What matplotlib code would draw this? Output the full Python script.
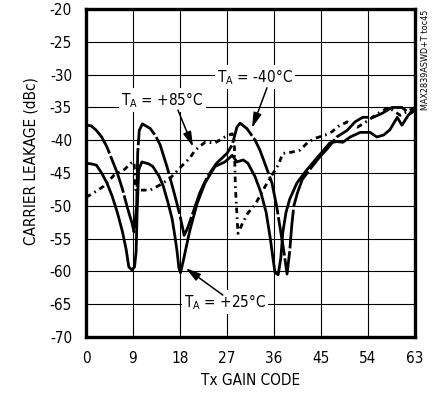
import matplotlib
matplotlib.use("Agg")
import matplotlib.pyplot as plt
from matplotlib import font_manager

# The datasheet uses a narrow sans; pick a condensed face if one is installed
narrow = [f for f in font_manager.fontManager.ttflist
          if "Narrow" in f.name or "Condensed" in f.name
          or str(f.stretch) in ("condensed", "semi-condensed", "extra-condensed", "narrow")]
narrow = [f for f in narrow if "Serif" not in f.name and "Mono" not in f.name]
if narrow:
    FONT = narrow[0].name
    plt.rcParams["font.stretch"] = narrow[0].stretch
    FS = 11
else:
    FONT = "Liberation Sans"
    FS = 10.5

plt.rcParams["font.family"] = [FONT, "DejaVu Sans"]
plt.rcParams["axes.unicode_minus"] = False
plt.rcParams["mathtext.fontset"] = "custom"
plt.rcParams["mathtext.rm"] = FONT
plt.rcParams["mathtext.default"] = "regular"

# ---- data (Tx gain code, carrier leakage dBc) ----
code_25 = [0, 1, 2, 3, 4, 5, 6, 7, 7.7, 8.2, 8.8, 9.3, 9.6, 9.8, 10.1, 10.7,
           12, 12.8, 14, 14.8, 15.7, 16.5, 17, 17.4, 17.8, 18.1, 18.6, 19, 19.9,
           21.3, 22.8, 24.7, 26.6, 28, 28.9, 30.1, 31, 32.4, 33.5, 34.5, 35.3,
           35.8, 36.2, 36.8, 37.3, 37.7, 38.3, 39, 40.4, 42.3, 43.9, 45.2, 46.7,
           48, 49.2, 50.6, 52.5, 54.4, 55.7, 57, 58.2, 59.6, 60.5, 61.7, 63]
leak_25 = [-43.5, -43.6, -43.8, -45, -46.5, -48.5, -51, -54, -56.7, -59.3, -59.8,
           -59.3, -57, -50.6, -44.5, -43.3, -43.6, -44, -45.5, -47, -49.5, -52,
           -54.5, -56.7, -59.5, -60.2, -58.5, -57, -53.7, -49.6, -46.5, -44, -43.3,
           -42.3, -43.3, -43, -43.5, -45.6, -48, -51, -55, -58, -60.2, -60.5, -58,
           -54, -51, -49, -46.5, -44.5, -43, -41.8, -40.4, -40.2, -40.3, -39.5,
           -38.8, -38.8, -39.5, -39.2, -38.4, -36.5, -37.7, -36.2, -35.4]

code_m40 = [0, 1, 2, 3, 4, 5, 6, 7, 8, 8.8, 9.2, 9.7, 9.9, 10.2, 10.8, 12.3,
            13.3, 14.2, 15.5, 16.7, 17.4, 18, 18.8, 19.4, 20.5, 21.8, 23.2, 25,
            27, 28, 28.9, 29.5, 30.8, 32.4, 33.3, 34.7, 35.6, 36.5, 37.3, 37.9,
            38.5, 39, 39.4, 39.8, 40.5, 41.4, 43.3, 44.8, 46.2, 48, 50, 51.5, 53,
            55, 56.7, 58.6, 60.5, 62, 63]
leak_m40 = [-37.7, -37.8, -38.5, -39.5, -41, -43, -45, -47.5, -50.5, -52.6, -54,
            -50, -42, -38.5, -37.5, -38.2, -39.3, -40.7, -44, -47.5, -49.6, -51.5,
            -54.5, -53.5, -51, -48, -45.6, -43.5, -42, -40.7, -38, -37.4, -38.2,
            -40, -41.5, -44.5, -46.5, -50, -54, -57, -60.4, -57, -53, -50, -48, -46,
            -44, -42.5, -41.3, -39.5, -38.5, -37.2, -36.5, -36.5, -35.9, -35, -35,
            -35.9, -35.2]

code_85 = [0, 1.5, 3.4, 5.4, 7.3, 8.6, 9.2, 9.5, 10.3, 12.3, 14.2, 16.1, 18,
           19.9, 20.9, 22.8, 24.7, 26.6, 28, 28.4, 28.6, 29.1, 30, 31, 32.4,
           33.9, 35.3, 36.8, 37.7, 39.5, 41, 42.5, 43.9, 45.8, 47.1, 48.3, 50,
           52, 54, 55.7, 57.9, 60.2, 62, 63]
leak_85 = [-48.7, -48, -47, -45.3, -44.5, -43.5, -43.3, -47.5, -47.6, -47.6,
           -46.8, -45.8, -44.2, -42.7, -41.5, -40.3, -40.4, -39.5, -39, -40, -47,
           -54.2, -52.6, -51.1, -49.8, -47.6, -45.7, -43.8, -42, -41.8, -41.5,
           -40.3, -39.7, -39.2, -38.7, -37.9, -37.2, -38, -37, -36, -35, -36.2,
           -35.4, -35]

x_ticks = [0, 9, 18, 27, 36, 45, 54, 63]
y_ticks = [-70, -65, -60, -55, -50, -45, -40, -35, -30, -25, -20]

# ---- figure ----
fig = plt.figure(figsize=(4.33, 3.96), dpi=100)
ax = fig.add_axes([0.1986, 0.149, 0.7598, 0.828])

lw = 2.0
ax.plot(code_25, leak_25, color="black", lw=lw, solid_joinstyle="round", zorder=3)
ax.plot(code_m40, leak_m40, color="black", lw=lw, dashes=(14, 1), zorder=3)
ax.plot(code_85, leak_85, color="black", lw=lw, dashes=(2, 1.5, 0.6, 1.5), zorder=3)

ax.set_xlim(0, 63)
ax.set_ylim(-70, -20)
ax.set_xticks(x_ticks)
ax.set_yticks(y_ticks)
ax.tick_params(length=0, labelsize=FS, pad=10)
ax.grid(True, color="black", lw=0.8)
ax.set_axisbelow(True)
for s in ax.spines.values():
    s.set_linewidth(2.4)

ax.set_xlabel("Tx GAIN CODE", fontsize=FS, labelpad=5)
ax.set_ylabel("CARRIER LEAKAGE (dBc)", fontsize=FS)
ax.yaxis.set_label_coords(-0.143, 0.537)

# labels with arrows
box = dict(facecolor="white", edgecolor="none", pad=1.5)
arrow = dict(arrowstyle="-|>,head_length=0.9,head_width=0.25", color="black",
             lw=1.1, shrinkA=0, shrinkB=0)
ax.text(32.4, -30.4, r"T$_A$ = -40°C", fontsize=FS, ha="center", va="center",
        bbox=box, zorder=4)
ax.annotate("", xy=(31.8, -38.1), xytext=(34.66, -32.0), arrowprops=arrow, zorder=4)
ax.text(14.6, -33.9, r"T$_A$ = +85°C", fontsize=FS, ha="center", va="center",
        bbox=box, zorder=4)
ax.annotate("", xy=(20.5, -41.0), xytext=(17.6, -35.4), arrowprops=arrow, zorder=4)
ax.text(26.6, -64.7, r"T$_A$ = +25°C", fontsize=FS, ha="center", va="center",
        bbox=box, zorder=4)
ax.annotate("", xy=(19.1, -59.5), xytext=(26.2, -63.6), arrowprops=arrow, zorder=4)

fig.text(425 / 433, 1 - 10 / 396, "MAX2839ASWD+T toc45", rotation=90,
         ha="center", va="top", fontsize=6.5)

fig.savefig("out.png", dpi=100)
